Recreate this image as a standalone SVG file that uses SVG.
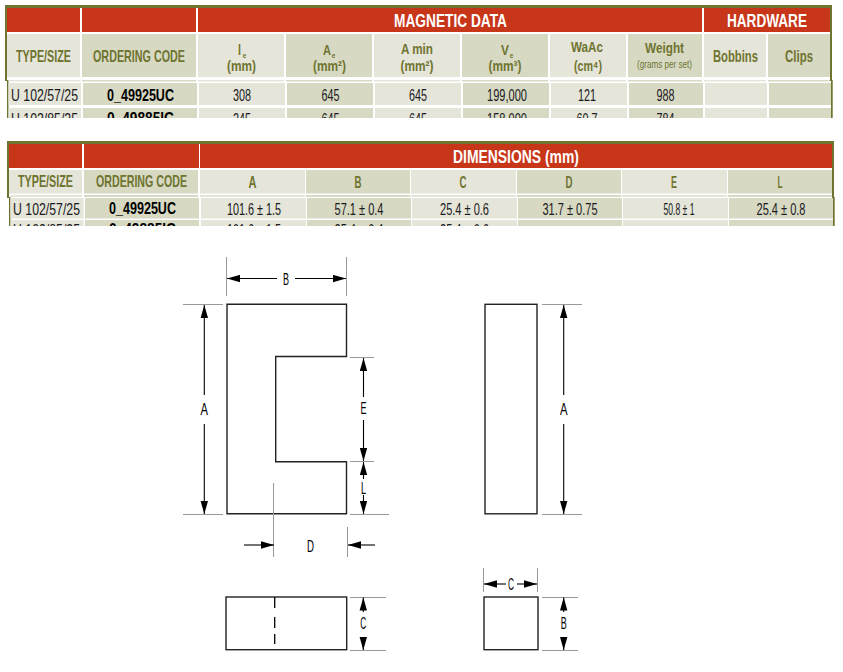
<svg xmlns="http://www.w3.org/2000/svg" width="843" height="672" viewBox="0 0 843 672">
<style>
text{font-family:"Liberation Sans",sans-serif;text-anchor:middle}
.o{fill:#6f7430}.r{fill:#c8361a}.l{fill:#e5e5d9}.d{fill:#d7d9c3}
.hw{fill:#fff;font-weight:bold;font-size:18.500px}
.h{fill:#6f7430;font-weight:bold;font-size:17px}
.u{fill:#6f7430;font-weight:bold;font-size:15px}
.s{fill:#6f7430;font-weight:bold;font-size:6.500px}
.v{fill:#1a1a22;font-size:16.500px}
.c{fill:#000;font-weight:bold;font-size:16px}
.g{fill:#6f7430;font-size:10.500px}
.t{fill:#000;font-size:17px}
.ln{stroke:#000;stroke-width:1.3;fill:none}
.ol{stroke:#222;stroke-width:1.4;fill:#fff}
.ex{stroke:#999;stroke-width:1;fill:none}
.ar{stroke:#000;stroke-width:1.1;fill:none;marker-end:url(#ah)}
</style>
<defs>
<marker id="ah" markerUnits="userSpaceOnUse" markerWidth="14" markerHeight="8" refX="13" refY="4" orient="auto"><path d="M0 0.3L13 4L0 7.7Z" fill="#000"/></marker>
<clipPath id="c1"><rect x="0" y="0" width="843" height="118"/></clipPath>
<clipPath id="c2"><rect x="0" y="130" width="843" height="96"/></clipPath>
</defs>
<rect width="843" height="672" fill="#fff"/>
<g id="table-magnetic" clip-path="url(#c1)">
<rect class="o" x="5" y="5" width="827" height="3"/><rect class="o" x="5" y="5" width="2" height="76"/><rect class="o" x="830" y="5" width="2" height="76"/>
<rect class="o" x="7" y="80" width="1.5" height="38"/><rect class="o" x="831" y="80" width="1.7" height="38"/>
<rect class="r" x="7" y="8" width="73" height="24"/><rect class="r" x="82" y="8" width="114" height="24"/><rect class="r" x="198" y="8" width="504" height="24"/><rect class="r" x="704" y="8" width="126" height="24"/>
<rect class="l" x="7" y="34" width="73" height="43"/><rect class="d" x="82" y="34" width="114" height="43"/><rect class="l" x="198" y="34" width="86" height="43"/><rect class="d" x="286" y="34" width="86" height="43"/><rect class="l" x="374" y="34" width="86" height="43"/><rect class="d" x="462" y="34" width="86" height="43"/><rect class="l" x="550" y="34" width="76" height="43"/><rect class="d" x="628" y="34" width="74" height="43"/><rect class="l" x="704" y="34" width="62" height="43"/><rect class="d" x="768" y="34" width="62" height="43"/>
<rect class="l" x="8.500" y="80" width="72" height="1.500"/><rect class="d" x="82" y="80" width="114" height="1.500"/><rect class="l" x="198" y="80" width="86" height="1.500"/><rect class="d" x="286" y="80" width="86" height="1.500"/><rect class="l" x="374" y="80" width="86" height="1.500"/><rect class="d" x="462" y="80" width="86" height="1.500"/><rect class="l" x="550" y="80" width="76" height="1.500"/><rect class="d" x="628" y="80" width="74" height="1.500"/><rect class="l" x="704" y="80" width="62" height="1.500"/><rect class="d" x="768" y="80" width="62" height="1.500"/>
<rect class="l" x="8.500" y="83" width="72.500" height="22"/><rect class="d" x="83" y="83" width="114" height="22"/><rect class="l" x="199" y="83" width="86" height="22"/><rect class="d" x="287" y="83" width="86" height="22"/><rect class="l" x="375" y="83" width="86" height="22"/><rect class="d" x="463" y="83" width="86" height="22"/><rect class="l" x="551" y="83" width="76" height="22"/><rect class="d" x="629" y="83" width="74" height="22"/><rect class="l" x="705" y="83" width="62" height="22"/><rect class="d" x="769" y="83" width="62" height="22"/>
<rect class="l" x="8.500" y="108" width="72.500" height="10"/><rect class="d" x="83" y="108" width="114" height="10"/><rect class="l" x="199" y="108" width="86" height="10"/><rect class="d" x="287" y="108" width="86" height="10"/><rect class="l" x="375" y="108" width="86" height="10"/><rect class="d" x="463" y="108" width="86" height="10"/><rect class="l" x="551" y="108" width="76" height="10"/><rect class="d" x="629" y="108" width="74" height="10"/><rect class="l" x="705" y="108" width="62" height="10"/><rect class="d" x="769" y="108" width="62" height="10"/>
<text class="hw" x="450.500" y="26.500" textLength="113" lengthAdjust="spacingAndGlyphs">MAGNETIC DATA</text>
<text class="hw" x="767" y="26.500" textLength="80" lengthAdjust="spacingAndGlyphs">HARDWARE</text>
<text class="h" x="43.500" y="62" textLength="55" lengthAdjust="spacingAndGlyphs">TYPE/SIZE</text>
<text class="h" x="139" y="62" textLength="92" lengthAdjust="spacingAndGlyphs">ORDERING CODE</text>
<text class="u" x="239.500" y="55" textLength="3" lengthAdjust="spacingAndGlyphs">l</text><text class="s" x="244.500" y="57.500">e</text><text class="u" x="241.500" y="71" textLength="29" lengthAdjust="spacingAndGlyphs">(mm)</text>
<text class="u" x="327" y="55" textLength="8" lengthAdjust="spacingAndGlyphs">A</text><text class="s" x="333.500" y="57.500">e</text><text class="u" x="329.500" y="71" textLength="33" lengthAdjust="spacingAndGlyphs">(mm²)</text>
<text class="u" x="417" y="54" textLength="32" lengthAdjust="spacingAndGlyphs">A min</text><text class="u" x="417" y="71" textLength="33" lengthAdjust="spacingAndGlyphs">(mm²)</text>
<text class="u" x="505" y="55" textLength="8" lengthAdjust="spacingAndGlyphs">V</text><text class="s" x="511.500" y="57.500">e</text><text class="u" x="505" y="71" textLength="33" lengthAdjust="spacingAndGlyphs">(mm³)</text>
<text class="u" x="587" y="52" textLength="32" lengthAdjust="spacingAndGlyphs">WaAc</text><text class="u" x="588" y="71" textLength="28" lengthAdjust="spacingAndGlyphs">(cm⁴)</text>
<text class="u" x="664.500" y="53" textLength="39" lengthAdjust="spacingAndGlyphs">Weight</text><text class="g" x="664.500" y="68" textLength="55" lengthAdjust="spacingAndGlyphs">(grams per set)</text>
<text class="h" x="735.500" y="62" textLength="45" lengthAdjust="spacingAndGlyphs">Bobbins</text><text class="h" x="799" y="62" textLength="28" lengthAdjust="spacingAndGlyphs">Clips</text>
<text class="v" x="44.500" y="101" textLength="67" lengthAdjust="spacingAndGlyphs">U 102/57/25</text>
<text class="c" x="140.500" y="100.500" textLength="67" lengthAdjust="spacingAndGlyphs">0_49925UC</text>
<text class="v" x="242" y="101" textLength="18" lengthAdjust="spacingAndGlyphs">308</text><text class="v" x="330.500" y="101" textLength="18" lengthAdjust="spacingAndGlyphs">645</text><text class="v" x="418" y="101" textLength="18" lengthAdjust="spacingAndGlyphs">645</text><text class="v" x="507" y="101" textLength="40" lengthAdjust="spacingAndGlyphs">199,000</text><text class="v" x="587" y="101" textLength="18" lengthAdjust="spacingAndGlyphs">121</text><text class="v" x="665.500" y="101" textLength="18" lengthAdjust="spacingAndGlyphs">988</text>
<text class="v" x="44.500" y="124.500" textLength="67" lengthAdjust="spacingAndGlyphs">U 102/85/25</text>
<text class="c" x="140.500" y="124" textLength="67" lengthAdjust="spacingAndGlyphs">0_49885IC</text>
<text class="v" x="242" y="124.500" textLength="18" lengthAdjust="spacingAndGlyphs">245</text><text class="v" x="330.500" y="124.500" textLength="18" lengthAdjust="spacingAndGlyphs">645</text><text class="v" x="418" y="124.500" textLength="18" lengthAdjust="spacingAndGlyphs">645</text><text class="v" x="507" y="124.500" textLength="40" lengthAdjust="spacingAndGlyphs">158,000</text><text class="v" x="587" y="124.500" textLength="21" lengthAdjust="spacingAndGlyphs">60.7</text><text class="v" x="665.500" y="124.500" textLength="18" lengthAdjust="spacingAndGlyphs">784</text>
</g>
<g id="table-dimensions" clip-path="url(#c2)">
<rect class="o" x="7" y="141" width="827" height="3"/><rect class="o" x="7" y="141" width="2" height="57"/><rect class="o" x="832" y="141" width="2" height="57"/>
<rect class="o" x="9" y="197" width="1.500" height="29"/><rect class="o" x="833" y="197" width="1.700" height="29"/>
<rect class="r" x="9" y="144" width="73" height="24"/><rect class="r" x="84" y="144" width="115" height="24"/><rect class="r" x="200" y="144" width="632" height="24"/>
<rect class="l" x="9" y="170" width="73" height="23.500"/><rect class="d" x="84" y="170" width="114" height="23.500"/><rect class="l" x="200" y="170" width="105" height="23.500"/><rect class="d" x="306" y="170" width="104" height="23.500"/><rect class="l" x="411" y="170" width="105" height="23.500"/><rect class="d" x="517" y="170" width="104" height="23.500"/><rect class="l" x="622" y="170" width="105" height="23.500"/><rect class="d" x="728" y="170" width="104" height="23.500"/>
<rect class="l" x="10.500" y="195" width="71.500" height="2"/><rect class="d" x="84" y="195" width="114" height="2"/><rect class="l" x="200" y="195" width="105" height="2"/><rect class="d" x="306" y="195" width="104" height="2"/><rect class="l" x="411" y="195" width="105" height="2"/><rect class="d" x="517" y="195" width="104" height="2"/><rect class="l" x="622" y="195" width="105" height="2"/><rect class="d" x="728" y="195" width="104" height="2"/>
<rect class="l" x="10.500" y="198" width="73" height="20.500"/><rect class="d" x="85" y="198" width="114" height="20.500"/><rect class="l" x="201" y="198" width="105" height="20.500"/><rect class="d" x="307" y="198" width="104" height="20.500"/><rect class="l" x="412" y="198" width="105" height="20.500"/><rect class="d" x="518" y="198" width="104" height="20.500"/><rect class="l" x="623" y="198" width="105" height="20.500"/><rect class="d" x="729" y="198" width="104" height="20.500"/>
<rect class="l" x="10.500" y="220" width="73" height="6"/><rect class="d" x="85" y="220" width="114" height="6"/><rect class="l" x="201" y="220" width="105" height="6"/><rect class="d" x="307" y="220" width="104" height="6"/><rect class="l" x="412" y="220" width="105" height="6"/><rect class="d" x="518" y="220" width="104" height="6"/><rect class="l" x="623" y="220" width="105" height="6"/><rect class="d" x="729" y="220" width="104" height="6"/>
<text class="hw" x="516" y="162.500" textLength="126" lengthAdjust="spacingAndGlyphs">DIMENSIONS (mm)</text>
<text class="h" x="45.500" y="187" textLength="55" lengthAdjust="spacingAndGlyphs">TYPE/SIZE</text>
<text class="h" x="141.500" y="187" textLength="91" lengthAdjust="spacingAndGlyphs">ORDERING CODE</text>
<text class="h" x="252.500" y="188" textLength="8" lengthAdjust="spacingAndGlyphs">A</text><text class="h" x="358" y="188" textLength="7" lengthAdjust="spacingAndGlyphs">B</text><text class="h" x="463" y="188" textLength="7" lengthAdjust="spacingAndGlyphs">C</text><text class="h" x="569" y="188" textLength="7" lengthAdjust="spacingAndGlyphs">D</text><text class="h" x="674" y="188" textLength="6" lengthAdjust="spacingAndGlyphs">E</text><text class="h" x="780" y="188" textLength="5" lengthAdjust="spacingAndGlyphs">L</text>
<text class="v" x="46.500" y="215" textLength="67" lengthAdjust="spacingAndGlyphs">U 102/57/25</text>
<text class="c" x="142.500" y="214" textLength="67" lengthAdjust="spacingAndGlyphs">0_49925UC</text>
<text class="v" x="254" y="215" textLength="54" lengthAdjust="spacingAndGlyphs">101.6 ± 1.5</text><text class="v" x="359" y="215" textLength="49" lengthAdjust="spacingAndGlyphs">57.1 ± 0.4</text><text class="v" x="464.500" y="215" textLength="49" lengthAdjust="spacingAndGlyphs">25.4 ± 0.6</text><text class="v" x="570" y="215" textLength="55" lengthAdjust="spacingAndGlyphs">31.7 ± 0.75</text><text class="v" x="679" y="215" textLength="31" lengthAdjust="spacingAndGlyphs">50.8 ± 1</text><text class="v" x="781" y="215" textLength="49" lengthAdjust="spacingAndGlyphs">25.4 ± 0.8</text>
<text class="v" x="46.500" y="236" textLength="67" lengthAdjust="spacingAndGlyphs">U 102/85/25</text>
<text class="c" x="142.500" y="235" textLength="67" lengthAdjust="spacingAndGlyphs">0_49885IC</text>
<text class="v" x="254" y="236" textLength="54" lengthAdjust="spacingAndGlyphs">101.6 ± 1.5</text><text class="v" x="359" y="236" textLength="49" lengthAdjust="spacingAndGlyphs">25.4 ± 0.4</text><text class="v" x="464.500" y="236" textLength="49" lengthAdjust="spacingAndGlyphs">25.4 ± 0.6</text>
</g>
<g id="core-front"><path class="ol" d="M227 304.300H346.500V356.500H275.700V461.700H346.500V513.800H227Z"/></g>
<g id="core-side"><rect class="ol" x="485" y="304.300" width="52" height="209.500"/></g>
<g id="core-bottom"><rect class="ol" x="226" y="597" width="120.700" height="52.700"/><path class="ln" d="M274.700 597V608M274.700 617V628M274.700 634V644"/></g>
<g id="core-end"><rect class="ol" x="484" y="597" width="54" height="52.700"/></g>
<g id="connectors">
<path class="ex" d="M226.500 257V296M346.500 257V296M183 304.500H223M183 514.500H223M350 357.500H374M350 461.500H374M350 514.500H389M273.500 483V557M347.500 527V557M542 304.500H582M542 514.500H582M350 597.500H386M350 650.500H386M483.500 568V592M537.500 568V592M542 597.500H578M542 650.500H578"/>
<path class="ar" d="M277 278.500H227"/><path class="ar" d="M295 278.500H346"/>
<path class="ar" d="M204.300 395V305"/><path class="ar" d="M204.300 424V514"/>
<path class="ar" d="M363.500 397V358"/><path class="ar" d="M363.500 420V461"/>
<path class="ar" d="M363.500 479V462"/><path class="ar" d="M363.500 495V514"/>
<path class="ar" d="M244 545H274"/><path class="ar" d="M375 545H348"/>
<path class="ar" d="M563.700 395V305"/><path class="ar" d="M563.700 424V514"/>
<path class="ar" d="M363.300 612V597.500"/><path class="ar" d="M363.300 637V650"/>
<path class="ar" d="M506 584H484"/><path class="ar" d="M517 584H537"/>
<path class="ar" d="M563.700 612V597.500"/><path class="ar" d="M563.700 637V650"/>
</g>
<g id="labels">
<text class="t" x="286" y="284.500" textLength="6" lengthAdjust="spacingAndGlyphs">B</text><text class="t" x="204.300" y="415" textLength="7.500" lengthAdjust="spacingAndGlyphs">A</text><text class="t" x="363.500" y="414" textLength="6" lengthAdjust="spacingAndGlyphs">E</text><text class="t" x="363.500" y="494" textLength="5" lengthAdjust="spacingAndGlyphs">L</text><text class="t" x="310.500" y="552" textLength="7" lengthAdjust="spacingAndGlyphs">D</text><text class="t" x="563.700" y="415" textLength="7.500" lengthAdjust="spacingAndGlyphs">A</text><text class="t" x="363.300" y="629" textLength="6" lengthAdjust="spacingAndGlyphs">C</text><text class="t" x="511" y="589.500" textLength="6" lengthAdjust="spacingAndGlyphs">C</text><text class="t" x="563.700" y="629" textLength="6" lengthAdjust="spacingAndGlyphs">B</text>
</g>
</svg>
